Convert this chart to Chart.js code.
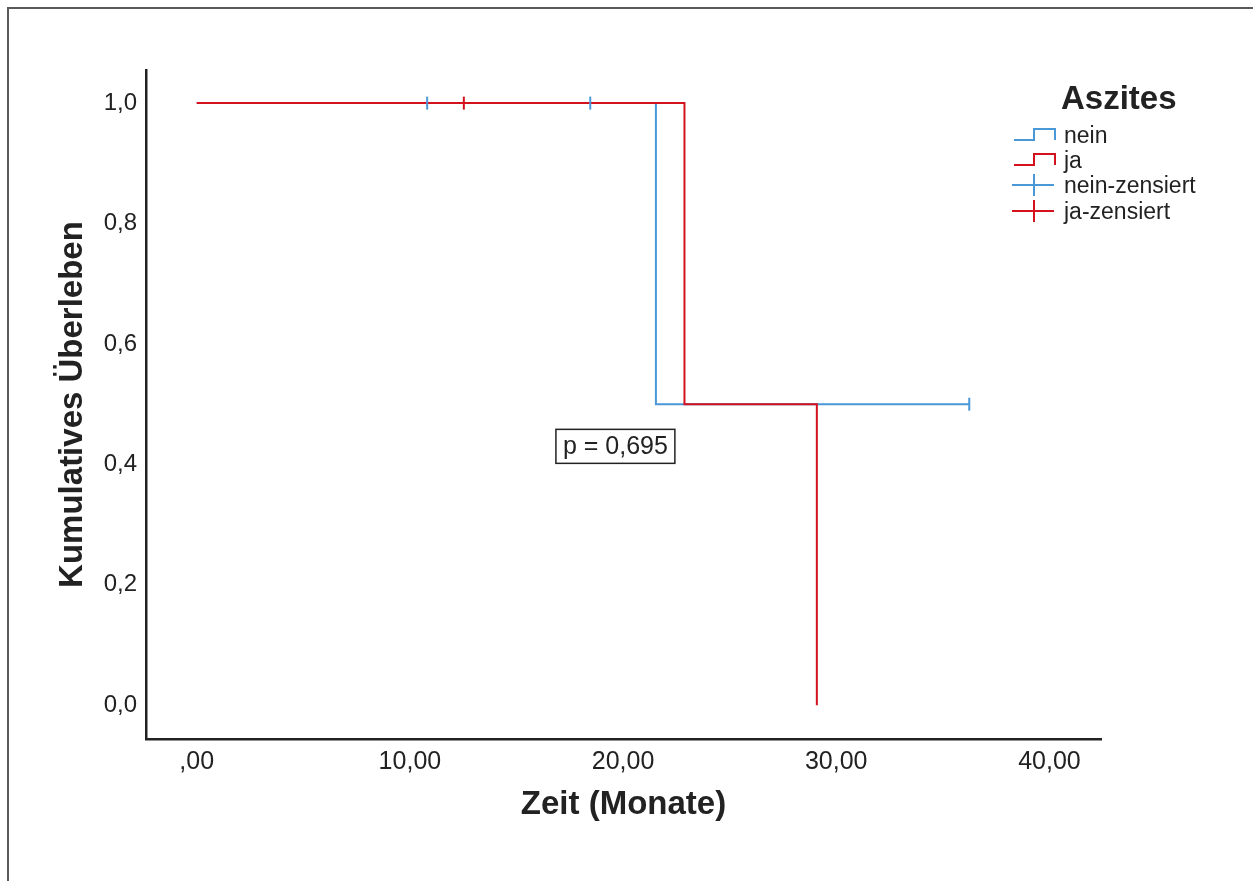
<!DOCTYPE html>
<html>
<head>
<meta charset="utf-8">
<script src="https://cdn.jsdelivr.net/npm/chart.js@4.4.1/dist/chart.umd.min.js"></script>
<style>
  html, body { margin: 0; padding: 0; background: #fff; overflow: hidden; }
  canvas { display: block; }
</style>
</head>
<body>
<canvas id="kmChart" width="1253" height="881"></canvas>
<script>
// Kaplan-Meier: Aszites nein / ja
const neinTimes = [0, 21.54, 36.24]
const neinSurv = [1, 0.5, 0.5]
const jaTimes = [0, 22.88, 29.09]
const jaSurv = [1, 0.5, 0]

const neinCensTimes = [10.81, 18.46, 36.24]
const neinCensSurv = [1, 1, 0.5]
const jaCensTimes = [12.53]
const jaCensSurv = [1]

const xTicks = [0, 10, 20, 30, 40]
const yTicks = [0, 0.2, 0.4, 0.6, 0.8, 1]
const pText = 'p = 0,695'
const pAnchor = [19.64, 0.43]

const blue = '#4a98d7'
const red = '#d3121d'
const ink = '#222222'
const fam = '"Liberation Sans", Arial, sans-serif'

const toPts = (xs, ys) => xs.map((x, i) => ({x, y: ys[i]}))

const legendItems = [
    {label: 'nein', kind: 'step', color: blue},
    {label: 'ja', kind: 'step', color: red},
    {label: 'nein-zensiert', kind: 'cens', color: blue},
    {label: 'ja-zensiert', kind: 'cens', color: red}
]

const decoPlugin = {
    id: 'deco',
    beforeDraw(chart) {
        const ctx = chart.ctx
        ctx.save()
        ctx.strokeStyle = '#5a5a5a'
        ctx.lineWidth = 2
        ctx.beginPath()
        ctx.moveTo(8, 881)
        ctx.lineTo(8, 8)
        ctx.lineTo(1253, 8)
        ctx.stroke()
        ctx.restore()
    },
    afterDraw(chart) {
        const ctx = chart.ctx
        const xs = chart.scales.x, ys = chart.scales.y
        ctx.save()

        // p-value box
        ctx.font = `25px ${fam}`
        ctx.textAlign = 'center'
        ctx.textBaseline = 'middle'
        ctx.fillStyle = ink
        const cx = xs.getPixelForValue(pAnchor[0])
        const cy = ys.getPixelForValue(pAnchor[1])
        const w = ctx.measureText(pText).width + 14
        ctx.strokeStyle = ink
        ctx.lineWidth = 1.5
        ctx.strokeRect(cx - w / 2, cy - 17, w, 34)
        ctx.fillText(pText, cx, cy + 1)

        // legend
        ctx.textAlign = 'left'
        ctx.font = `bold 33px ${fam}`
        ctx.fillText('Aszites', 1061, 100)
        ctx.font = `23px ${fam}`
        const rows = [135, 160, 185, 211]
        legendItems.forEach((it, i) => {
            const y = rows[i]
            ctx.strokeStyle = it.color
            ctx.lineWidth = 2
            ctx.beginPath()
            if (it.kind === 'step') {
                ctx.moveTo(1014, y + 5)
                ctx.lineTo(1034, y + 5)
                ctx.lineTo(1034, y - 6)
                ctx.lineTo(1055, y - 6)
                ctx.lineTo(1055, y + 5)
            } else {
                ctx.moveTo(1012, y)
                ctx.lineTo(1054, y)
                ctx.moveTo(1034, y - 11)
                ctx.lineTo(1034, y + 11)
            }
            ctx.stroke()
            ctx.fillStyle = ink
            ctx.fillText(it.label, 1064, y + 2)
        })
        ctx.restore()
    }
}

const censorSet = (pts, color) => ({
    data: pts,
    showLine: false,
    pointStyle: 'line',
    rotation: 90,
    pointRadius: 6.5,
    pointBorderWidth: 2,
    pointBorderColor: color,
    pointBackgroundColor: color
})

const lineSet = (pts, color) => ({
    data: pts,
    showLine: true,
    stepped: 'before',
    borderColor: color,
    borderWidth: 2,
    pointRadius: 0,
    fill: false
})

new Chart(document.getElementById('kmChart'), {
    type: 'scatter',
    data: {
        datasets: [
            censorSet(toPts(neinCensTimes, neinCensSurv), blue),
            censorSet(toPts(jaCensTimes, jaCensSurv), red),
            lineSet(toPts(jaTimes, jaSurv), red),
            lineSet(toPts(neinTimes, neinSurv), blue)
        ]
    },
    options: {
        responsive: false,
        animation: false,
        layout: {padding: {left: 0, top: 70, right: 152, bottom: 0}},
        plugins: {legend: {display: false}, tooltip: {enabled: false}, title: {display: false}},
        scales: {
            x: {
                type: 'linear',
                min: -2.38,
                max: 42.42,
                afterBuildTicks: (s) => { s.ticks = xTicks.map(v => ({value: v})) },
                afterFit: (s) => { s.height = 142 },
                grid: {display: false, drawTicks: false},
                border: {display: true, color: ink, width: 2.5},
                ticks: {
                    padding: 8,
                    color: ink,
                    font: {family: fam, size: 25},
                    maxRotation: 0,
                    callback: (v) => v === 0 ? ',00' : v.toFixed(2).replace('.', ',')
                },
                title: {
                    display: true,
                    text: 'Zeit (Monate)',
                    color: ink,
                    font: {family: fam, size: 33, weight: 'bold'},
                    padding: {top: 0, bottom: 56}
                }
            },
            y: {
                type: 'linear',
                min: -0.056,
                max: 1.055,
                afterBuildTicks: (s) => { s.ticks = yTicks.map(v => ({value: v})) },
                afterFit: (s) => { s.width = 146 },
                grid: {display: false, drawTicks: false},
                border: {display: true, color: ink, width: 2.5},
                ticks: {
                    padding: 9,
                    color: ink,
                    font: {family: fam, size: 24},
                    callback: (v) => v.toFixed(1).replace('.', ',')
                },
                title: {
                    display: true,
                    text: 'Kumulatives Überleben',
                    color: ink,
                    font: {family: fam, size: 33, weight: 'bold'},
                    padding: {top: 53, bottom: 0}
                }
            }
        }
    },
    plugins: [decoPlugin]
})
</script>
</body>
</html>
